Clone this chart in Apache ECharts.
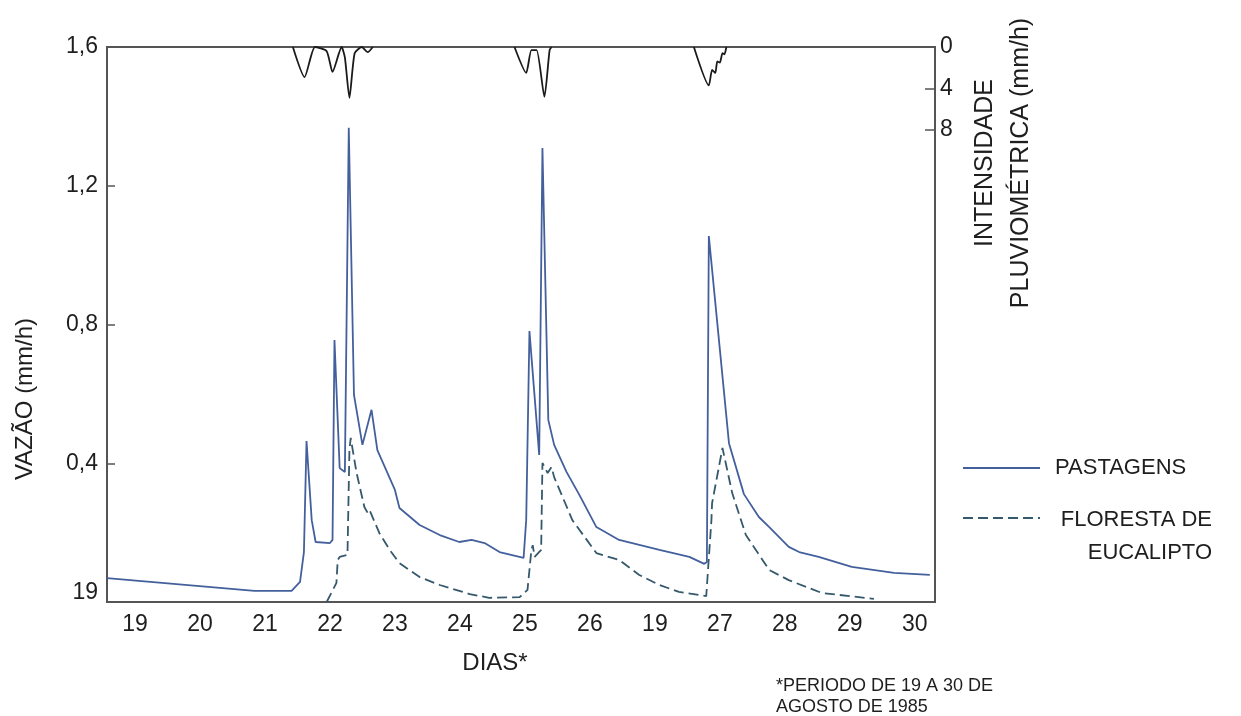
<!DOCTYPE html>
<html>
<head>
<meta charset="utf-8">
<script src="https://cdn.jsdelivr.net/npm/echarts@6/dist/echarts.min.js"></script>
<style>
  html, body { margin: 0; padding: 0; background: #fff; }
  #chart { width: 1241px; height: 716px; }
</style>
</head>
<body>
<div id="chart"></div>
<script>
// x values are day positions (0 = first "19" label, 12 = "30")
const dayLabels = ["19", "20", "21", "22", "23", "24", "25", "26", "19", "27", "28", "29", "30"];
const vazaoTicks = [0, 0.4, 0.8, 1.2, 1.6];
const vazaoTickLabels = ["19", "0,4", "0,8", "1,2", "1,6"];
const chuvaTicks = [0, 4, 8];

// PASTAGENS (solid)
const pastagens = [
  [-0.43, 0.069], [1.84, 0.032], [2.41, 0.032], [2.54, 0.058], [2.60, 0.144], [2.64, 0.464],
  [2.72, 0.236], [2.78, 0.173], [3.00, 0.170], [3.04, 0.179], [3.07, 0.755], [3.15, 0.386],
  [3.23, 0.375], [3.29, 1.367], [3.37, 0.597], [3.50, 0.453], [3.64, 0.554], [3.73, 0.438],
  [4.00, 0.323], [4.07, 0.271], [4.38, 0.222], [4.69, 0.193], [4.99, 0.173], [5.18, 0.179],
  [5.38, 0.170], [5.61, 0.144], [5.98, 0.127], [6.02, 0.236], [6.07, 0.781], [6.22, 0.424],
  [6.27, 1.309], [6.36, 0.525], [6.45, 0.453], [6.64, 0.375], [6.84, 0.308], [7.10, 0.216],
  [7.45, 0.179], [8.07, 0.150], [8.53, 0.130], [8.76, 0.110], [8.80, 0.115], [8.83, 1.055],
  [9.14, 0.458], [9.37, 0.311], [9.60, 0.245], [9.76, 0.216], [10.06, 0.159], [10.22, 0.144],
  [10.52, 0.130], [11.03, 0.101], [11.68, 0.084], [12.23, 0.078]
];

// FLORESTA DE EUCALIPTO (dashed)
const floresta = [
  [2.95, 0.000], [3.10, 0.055], [3.12, 0.121], [3.15, 0.130], [3.27, 0.136], [3.30, 0.438],
  [3.32, 0.473], [3.41, 0.372], [3.53, 0.274], [3.58, 0.257], [3.61, 0.265], [3.76, 0.199],
  [3.92, 0.150], [4.07, 0.112], [4.38, 0.072], [4.69, 0.049], [5.15, 0.023], [5.45, 0.012],
  [5.92, 0.014], [6.04, 0.035], [6.10, 0.150], [6.12, 0.164], [6.15, 0.130], [6.25, 0.150],
  [6.27, 0.401], [6.30, 0.404], [6.35, 0.372], [6.41, 0.389], [6.45, 0.360], [6.73, 0.236],
  [7.10, 0.141], [7.45, 0.121], [7.76, 0.078], [8.07, 0.049], [8.37, 0.029], [8.79, 0.017],
  [8.87, 0.236], [8.88, 0.285], [9.04, 0.444], [9.19, 0.314], [9.40, 0.193], [9.76, 0.092],
  [10.06, 0.063], [10.57, 0.026], [11.37, 0.009]
];

// intensidade pluviometrica (mm/h), right axis, inverted
const chuva = [
  [2.43, 0], [2.61, 2.9], [2.77, 0], [2.95, 0.4], [3.04, 2.4], [3.18, 0], [3.23, 1.0],
  [3.30, 4.9], [3.38, 0.6], [3.49, 0], [3.58, 0.5], [3.66, 0], [4.5, null],
  [5.84, 0], [6.02, 2.5], [6.10, 0.3], [6.18, 0.3], [6.30, 4.8], [6.38, 0.3], [6.41, 0], [7.5, null],
  [8.60, 0], [8.83, 3.7], [8.88, 2.2], [8.93, 2.5], [8.96, 1.4], [9.00, 1.5], [9.04, 0.6],
  [9.07, 0.7], [9.10, 0]
];

const font = "'Liberation Sans', Arial, sans-serif";
const txt = "#1e1e1e";
const axisCol = "#555";

let myChart = echarts.init(document.getElementById("chart"));
let option = {
  backgroundColor: "#fff",
  animation: false,
  grid: {
    left: 107, right: 306, top: 47, bottom: 114,
    show: true, borderColor: axisCol, borderWidth: 2
  },
  xAxis: {
    type: "value",
    min: -0.43,
    max: 12.31,
    axisLine: { onZero: false, lineStyle: { color: axisCol, width: 2 } },
    axisTick: { show: false },
    splitLine: { show: false },
    axisLabel: {
      customValues: dayLabels.map((d, i) => i),
      formatter: v => dayLabels[Math.round(v)],
      color: txt, fontSize: 23, fontFamily: font, margin: 11
    }
  },
  yAxis: [
    {
      type: "value",
      min: 0,
      max: 1.6,
      axisLine: { show: true, onZero: false, lineStyle: { color: axisCol, width: 2 } },
      axisTick: { show: true, inside: true, length: 8, customValues: [0.4, 0.8, 1.2], lineStyle: { color: axisCol, width: 1.5 } },
      splitLine: { show: false },
      axisLabel: {
        customValues: vazaoTicks,
        formatter: function (v) {
          let i = vazaoTicks.indexOf(Math.round(v * 10) / 10);
          return i === 0 ? "{b|" + vazaoTickLabels[i] + "}" : vazaoTickLabels[i];
        },
        rich: { b: { fontSize: 23, fontFamily: font, color: txt, padding: [0, 0, 18, 0] } },
        color: txt, fontSize: 23, fontFamily: font, margin: 9
      }
    },
    {
      type: "value",
      min: 0,
      max: 53.5,
      inverse: true,
      position: "right",
      axisLine: { show: true, onZero: false, lineStyle: { color: axisCol, width: 2 } },
      axisTick: { show: true, inside: true, length: 10, customValues: [4, 8], lineStyle: { color: axisCol, width: 1.5 } },
      splitLine: { show: false },
      axisLabel: {
        customValues: chuvaTicks,
        color: txt, fontSize: 23, fontFamily: font, margin: 5
      }
    }
  ],
  series: [
    {
      name: "PASTAGENS",
      type: "line",
      data: pastagens,
      showSymbol: false,
      lineStyle: { color: "#44609c", width: 1.8 }
    },
    {
      name: "FLORESTA DE EUCALIPTO",
      type: "line",
      data: floresta,
      showSymbol: false,
      lineStyle: { color: "#35596c", width: 1.8, type: [10, 5] }
    },
    {
      name: "CHUVA",
      type: "line",
      yAxisIndex: 1,
      data: chuva,
      showSymbol: false,
      connectNulls: false,
      smooth: 0.2,
      lineStyle: { color: "#1a1a1a", width: 1.8 }
    }
  ],
  graphic: [
    // y axis names
    { type: "text", x: 25, y: 399, rotation: Math.PI / 2,
      style: { text: "VAZÃO (mm/h)", fill: txt, font: "24px " + font, align: "center", verticalAlign: "middle" } },
    { type: "text", x: 1003, y: 163, rotation: Math.PI / 2,
      style: { text: "INTENSIDADE\nPLUVIOMÉTRICA (mm/h)", fill: txt, font: "25px " + font,
        align: "center", verticalAlign: "middle", lineHeight: 36 } },
    // x axis name
    { type: "text", x: 495, y: 663,
      style: { text: "DIAS*", fill: txt, font: "24px " + font, align: "center", verticalAlign: "middle" } },
    // footnote
    { type: "text", x: 776, y: 676,
      style: { text: "*PERIODO DE 19 A 30 DE\nAGOSTO DE 1985", fill: txt, font: "18px " + font, lineHeight: 21 } },
    // legend
    { type: "line", shape: { x1: 963, y1: 468, x2: 1040, y2: 468 },
      style: { stroke: "#44609c", lineWidth: 1.8 } },
    { type: "text", x: 1055, y: 468,
      style: { text: "PASTAGENS", fill: txt, font: "22px " + font, verticalAlign: "middle" } },
    { type: "line", shape: { x1: 963, y1: 518, x2: 1040, y2: 518 },
      style: { stroke: "#35596c", lineWidth: 1.8, lineDash: [10, 5] } },
    { type: "text", x: 1212, y: 503,
      style: { text: "FLORESTA DE\nEUCALIPTO", fill: txt, font: "22px " + font, align: "right",
        verticalAlign: "top", lineHeight: 33 } }
  ]
};

if (option && typeof option === "object") myChart.setOption(option);
window.addEventListener("resize", function () {
  myChart.resize();
});
</script>
</body>
</html>
